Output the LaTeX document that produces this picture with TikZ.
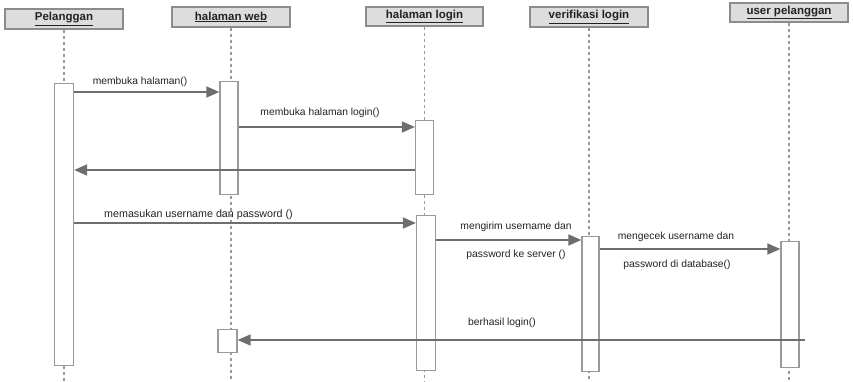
\documentclass[tikz,border=0pt]{standalone}
\usepackage{fontspec}
\setmainfont{Liberation Sans}
\usetikzlibrary{arrows.meta}
\definecolor{linegray}{HTML}{6E6E6E}
\definecolor{boxgray}{HTML}{8C8C8C}
\definecolor{headfill}{HTML}{DDDDDD}
\definecolor{actgray}{HTML}{9A9A9A}
\definecolor{txt}{HTML}{222222}
\tikzset{
  head/.style={draw=boxgray, fill=headfill, line width=1.6pt, minimum width=118pt,
    minimum height=20pt, inner sep=0pt, text=txt,
    font=\fontsize{11.5}{13}\selectfont\bfseries},
  life/.style={draw=actgray, line width=1.3pt, dash pattern=on 3.5pt off 2.5pt},
  act/.style={draw=actgray, fill=white, line width=1.3pt, inner sep=0pt, anchor=north},
  msg/.style={draw=linegray, line width=1.8pt,
    -{Triangle[length=13pt,width=11pt]}},
  lbl/.style={text=txt, inner sep=0pt, font=\fontsize{10.3}{12}\selectfont}
}
\begin{document}
\begin{tikzpicture}[x=1pt,y=-1pt]
\useasboundingbox (0,0) rectangle (853,382);

% object headers
\node[head] (h1) at (64,19)    {\underline{Pelanggan}};
\node[head] (h2) at (231,17)   {\underline{halaman web}};
\node[head, minimum width=117pt, minimum height=19pt] (h3) at (424.5,16.5) {\underline{halaman login}};
\node[head] (h4) at (589,17)   {\underline{verifikasi login}};
\node[head, minimum height=19pt] (h5) at (789,12.5) {\underline{user pelanggan}};

% lifelines
\foreach \h in {h1,h2,h3,h4,h5}
  \draw[life] (\h.south) -- (\h.south |- 0,382);

% activation bars
\node[act, minimum width=19pt, minimum height=282pt] (pa)  at (64,83)    {};
\node[act, minimum width=18pt, minimum height=113pt] (wa1) at (229,81)   {};
\node[act, minimum width=18pt, minimum height=74pt]  (la1) at (424.5,120) {};
\node[act, minimum width=19pt, minimum height=155pt] (la2) at (426,215)  {};
\node[act, minimum width=17pt, minimum height=135pt] (va)  at (590.5,236) {};
\node[act, minimum width=18pt, minimum height=126pt] (ua)  at (790,241)  {};
\node[act, minimum width=19pt, minimum height=23pt]  (wa2) at (227.5,329) {};

% messages
\draw[msg] (pa.east |- 0,92) -- (wa1.west |- 0,92);
\node[lbl] (m1) at (140,82) {membuka halaman()};

\draw[msg] (wa1.east |- 0,127) -- (la1.west |- 0,127);
\node[lbl] (m2) at (320,113) {membuka halaman login()};

\draw[msg] (la1.west |- 0,170) -- (pa.east |- 0,170);

\draw[msg] (pa.east |- 0,223) -- (la2.west |- 0,223);
\node[lbl, font=\fontsize{10.7}{12}\selectfont] (m4) at (198.5,215) {memasukan username dan password ()};

\draw[msg] (la2.east |- 0,240) -- (va.west |- 0,240);
\node[lbl] (m5a) at (516,227) {mengirim username dan};
\node[lbl] (m5b) at (516,255) {password ke server ()};

\draw[msg] (va.east |- 0,249) -- (ua.west |- 0,249);
\node[lbl] (m6a) at (676,237) {mengecek username dan};
\node[lbl] (m6b) at (677,265) {password di database()};

\coordinate (ret) at (805,340);
\draw[msg] (ret) -- (wa2.east |- ret);
\node[lbl] (m7) at (502,323) {berhasil login()};
\end{tikzpicture}
\end{document}
